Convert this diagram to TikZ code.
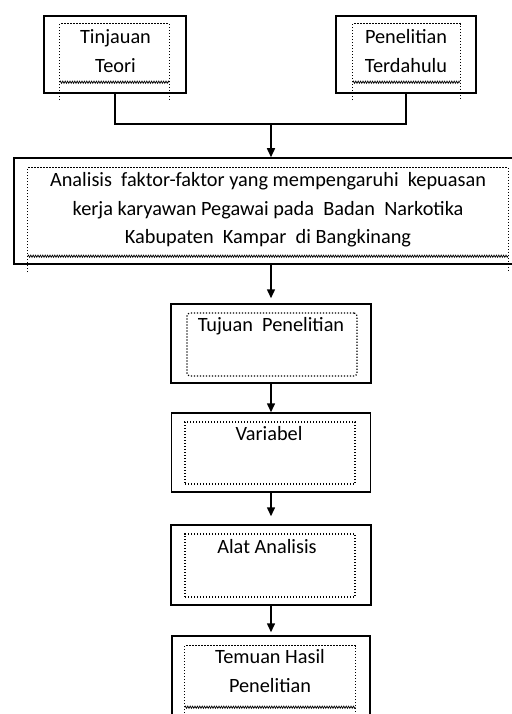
\documentclass[tikz,border=0pt]{standalone}
\usepackage{fontspec}
\setmainfont{Carlito}
\usetikzlibrary{arrows.meta,positioning,calc,decorations.pathmorphing}

\tikzset{
  outer/.style 2 args={draw, line width=1.5pt, inner sep=0pt,
    minimum width=#1, minimum height=#2},
  dotline/.style={line width=1.2pt, dash pattern=on 1.2pt off 1.8pt},
  dotframe/.style 2 args={draw, dotline, inner sep=0pt,
    minimum width=#1, minimum height=#2},
  openframe/.style 2 args={inner sep=0pt, minimum width=#1, minimum height=#2},
  wavy/.style={line width=0.7pt, decorate,
    decoration={zigzag, amplitude=1.1pt, segment length=2.4pt}},
  txt/.style={font=\fontsize{20.3}{29.4}\selectfont, align=center, anchor=base, inner sep=0pt},
  link/.style={line width=1.5pt},
  arrowlink/.style={line width=1.5pt, -{Triangle[width=8pt,length=9pt]}}
}

\begin{document}
\begin{tikzpicture}[x=1pt,y=-1pt]
\useasboundingbox (0,0) rectangle (511,714);

% boxes
\node[outer={142}{77}] (teori) at (115,54.5) {};
\node[outer={140}{77}] (dahulu) at (406,54.5) {};
\node[outer={514}{106}] (analisis) at (271,211) {};
\node[outer={200}{79}] (tujuan) at (271,343.5) {};
\node[outer={199}{79}] (variabel) at (271,452.5) {};
\node[outer={200}{80}] (alat) at (271,565) {};
\node[outer={198}{128}] (temuan) at (271,700) {};

% inner frames
\node[openframe={109}{58}] (teori-in) at (114.5,53) {};
\node[openframe={107}{58}] (dahulu-in) at (406.5,53) {};
\node[openframe={480}{88}] (analisis-in) at (268,212) {};
\node[dotframe={170}{63}, rounded corners=3pt] (tujuan-in) at (272,344.5) {};
\node[dotframe={170}{62}] (variabel-in) at (270,453) {};
\node[dotframe={170}{63}] (alat-in) at (270,565.5) {};
\node[openframe={170}{61}] (temuan-in) at (270,676.5) {};

\foreach \f/\ext in {teori-in/18, dahulu-in/18, analisis-in/16, temuan-in/30} {
  \draw[dotline] ($(\f.south west)+(0,\ext)$) -- (\f.north west)
    -- (\f.north east) -- ($(\f.south east)+(0,\ext)$);
  \draw[wavy] (\f.south west) -- (\f.south east);
}

% texts (base = last line)
\node[txt] (teori-t) at (115.5,72.7) {Tinjauan\\Teori};
\node[txt] (dahulu-t) at (406,72.7) {Penelitian\\Terdahulu};
\node[txt] (analisis-t) at (268,243.3) {Analisis \ faktor-faktor yang mempengaruhi \ kepuasan\\[-1.1pt]
  kerja karyawan Pegawai pada \ Badan \ Narkotika\\[-1.1pt]
  Kabupaten \ Kampar \ di Bangkinang};
\node[txt] (tujuan-t) at (271,331.7) {Tujuan \ Penelitian};
\node[txt] (variabel-t) at (269,440) {Variabel};
\node[txt] (alat-t) at (267,553.3) {Alat Analisis};
\node[txt] (temuan-t) at (270,692.7) {Temuan Hasil\\Penelitian};

% connectors
\coordinate (join) at (271,124);
\draw[link] (teori.south) |- (join) -| (dahulu.south);
\draw[arrowlink] (join) -- (analisis.north);
\draw[arrowlink, shorten >=5pt] (analisis.south) -- (tujuan.north);
\draw[arrowlink] (tujuan.south) -- (variabel.north);
\draw[arrowlink, shorten >=8pt] (variabel.south) -- (alat.north);
\draw[arrowlink, shorten >=3pt] (alat.south) -- (temuan.north);
\end{tikzpicture}
\end{document}
